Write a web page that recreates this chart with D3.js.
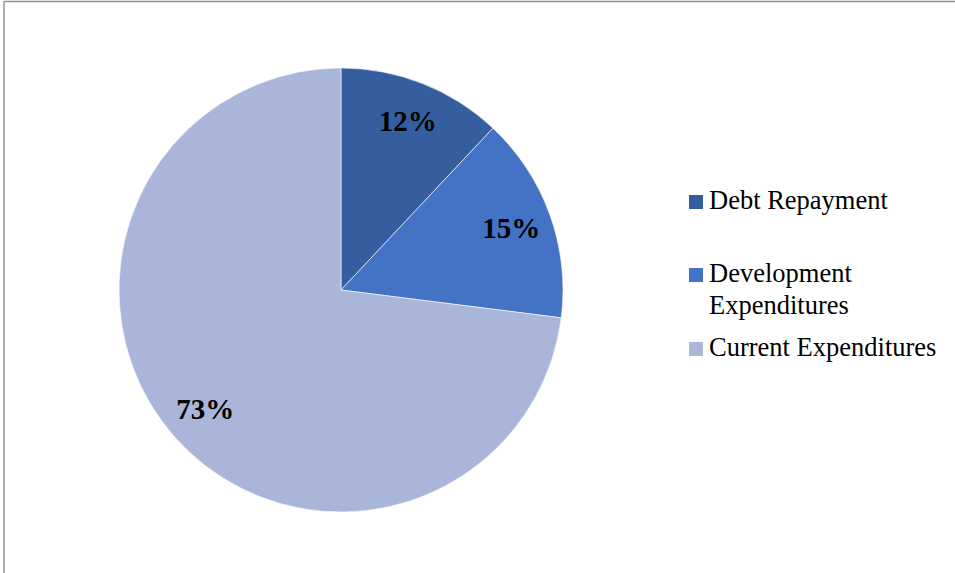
<!DOCTYPE html>
<html>
<head>
<meta charset="utf-8">
<script src="https://cdn.jsdelivr.net/npm/d3@7"></script>
<style>
  body { margin: 0; background: #fff; }
  svg { display: block; }
</style>
</head>
<body>
<div id="chart"><svg></svg></div>
<script>
var width = 955;
var height = 573;

// data
var categories = ["Debt Repayment", "Development Expenditures", "Current Expenditures"];
var shares = [12, 15, 73];
var colours = ["#355E9F", "#4472C4", "#A9B6DA"];
// legend text, split where the original wraps
var legendLines = [["Debt Repayment"], ["Development", "Expenditures"], ["Current Expenditures"]];

var centre = {x: 341, y: 290};
var radius = 222;

var svg = d3.select("#chart").select("svg")
    .attr("width", width)
    .attr("height", height);

// frame of the chart area (only top and left edges show)
svg.append("line")
    .attr("x1", 4).attr("x2", width).attr("y1", 1.5).attr("y2", 1.5)
    .attr("stroke", "#8f8f8f").attr("stroke-width", 1.5);
svg.append("line")
    .attr("x1", 4).attr("x2", 4).attr("y1", 1).attr("y2", height)
    .attr("stroke", "#b0b0b0").attr("stroke-width", 2);

var data = categories.map(function(c, i) { return {name: c, value: shares[i]}; });

var pie = d3.pie().sort(null).value(function(d) { return d.value; });
var arc = d3.arc().innerRadius(0).outerRadius(radius);
var labelArc = d3.arc().innerRadius(181).outerRadius(181);
var colour = d3.scaleOrdinal().domain(categories).range(colours);

var g = svg.append("g")
    .attr("transform", "translate(" + centre.x + "," + centre.y + ")");

var slices = pie(data);

g.selectAll("path")
    .data(slices)
    .enter().append("path")
    .attr("d", arc)
    .attr("fill", function(d) { return colour(d.data.name); })
    .attr("stroke", "#ffffff")
    .attr("stroke-width", 0.6);

g.selectAll("text")
    .data(slices)
    .enter().append("text")
    .attr("transform", function(d) { return "translate(" + labelArc.centroid(d) + ")"; })
    .attr("dy", "0.33em")
    .attr("text-anchor", "middle")
    .style("font-family", "'Liberation Serif', 'Times New Roman', serif")
    .style("font-weight", "bold")
    .style("font-size", "29px")
    .text(function(d) { return d.data.value + "%"; });

// legend
var legendY = [209, 282, 356]; // baseline of the first line in each entry
var legend = svg.append("g").attr("class", "legend");

var items = legend.selectAll("g")
    .data(categories)
    .enter().append("g")
    .attr("transform", function(d, i) { return "translate(689," + legendY[i] + ")"; });

items.append("rect")
    .attr("x", 0).attr("y", -14)
    .attr("width", 14).attr("height", 14)
    .attr("fill", function(d) { return colour(d); });

items.append("text")
    .attr("x", 20)
    .style("font-family", "'Liberation Serif', 'Times New Roman', serif")
    .style("font-size", "26.5px")
    .attr("fill", "#000")
    .each(function(d, i) {
        var t = d3.select(this);
        legendLines[i].forEach(function(line, j) {
            t.append("tspan")
                .attr("x", 20)
                .attr("y", j * 31.6)
                .text(line);
        });
    });
</script>
</body>
</html>
